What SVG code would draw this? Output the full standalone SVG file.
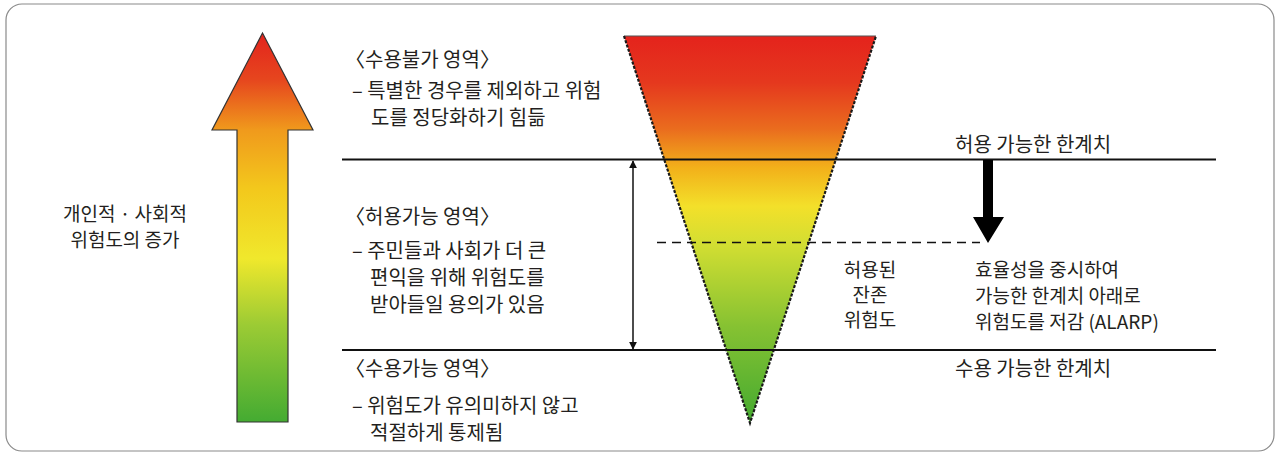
<svg xmlns="http://www.w3.org/2000/svg" width="1277" height="454" viewBox="0 0 1277 454">
<defs>
<linearGradient id="gArrow" x1="0" y1="33" x2="0" y2="422" gradientUnits="userSpaceOnUse">
<stop offset="0" stop-color="#e3231d"/>
<stop offset="0.12" stop-color="#e6461e"/>
<stop offset="0.25" stop-color="#f09a1c"/>
<stop offset="0.4" stop-color="#f3c81c"/>
<stop offset="0.58" stop-color="#f0e82c"/>
<stop offset="0.75" stop-color="#9ccb34"/>
<stop offset="1" stop-color="#44ab32"/>
</linearGradient>
<linearGradient id="gTri" x1="0" y1="36" x2="0" y2="423" gradientUnits="userSpaceOnUse">
<stop offset="0" stop-color="#e4231c"/>
<stop offset="0.12" stop-color="#e5381e"/>
<stop offset="0.24" stop-color="#ea6c1e"/>
<stop offset="0.34" stop-color="#f2b01a"/>
<stop offset="0.44" stop-color="#f3e02a"/>
<stop offset="0.54" stop-color="#d2de32"/>
<stop offset="0.75" stop-color="#86c232"/>
<stop offset="1" stop-color="#44aa30"/>
</linearGradient>
<marker id="ah" viewBox="0 0 10 10" refX="9" refY="5" markerWidth="8" markerHeight="8" markerUnits="userSpaceOnUse" orient="auto-start-reverse">
<path d="M0,0 L10,5 L0,10 z" fill="#111"/>
</marker>
<style>
text{font-family:"Noto Sans CJK KR","Liberation Sans",sans-serif;font-size:20px;fill:#231f20}
.mid{text-anchor:middle}
.sm{font-size:19px}
.ln{stroke:#111;stroke-width:2;fill:none}
</style>
</defs>
<rect x="6" y="4" width="1268" height="447" rx="16" ry="16" fill="#fff" stroke="#8a8a8a" stroke-width="1.2"/>

<g id="risk-arrow">
<path d="M262.5,33 L313,130 L288,130 L288,422 L237,422 L237,130 L212,130 Z" fill="url(#gArrow)" stroke="#333" stroke-width="1.2" stroke-linejoin="miter"/>
</g>
<g id="risk-arrow-label">
<text x="125" y="221" class="mid sm">개인적 · 사회적</text>
<text x="125" y="247" class="mid sm">위험도의 증가</text>
</g>

<g id="triangle">
<path d="M624,36 L876,36 L750,423 Z" fill="url(#gTri)"/>
<line x1="624" y1="36" x2="876" y2="36" stroke="#555" stroke-width="1.2"/>
<path d="M624,36 L750,423 L876,36" fill="none" stroke="#1a1a1a" stroke-width="2.2" stroke-dasharray="3,1.5"/>
</g>

<g id="connectors">
<line class="ln" x1="342" y1="159.5" x2="1216" y2="159.5"/>
<line class="ln" x1="342" y1="350" x2="1216" y2="350"/>
<line x1="633" y1="161" x2="633" y2="349" stroke="#111" stroke-width="1.5" marker-start="url(#ah)" marker-end="url(#ah)"/>
<line x1="657" y1="242.5" x2="980" y2="242.5" stroke="#111" stroke-width="1.5" stroke-dasharray="9,6"/>
<path d="M983,160 L993,160 L993,217 L1004,217 L988,243 L973,217 L983,217 Z" fill="#000"/>
</g>

<g id="zone-unacceptable">
<text x="345" y="67">〈수용불가 영역〉</text>
<text x="352" y="98">– 특별한 경우를 제외하고 위험</text>
<text x="371" y="125">도를 정당화하기 힘듦</text>
</g>
<g id="zone-tolerable">
<text x="345" y="224">〈허용가능 영역〉</text>
<text x="352" y="258">– 주민들과 사회가 더 큰</text>
<text x="370" y="285">편익을 위해 위험도를</text>
<text x="370" y="312">받아들일 용의가 있음</text>
</g>
<g id="zone-acceptable">
<text x="345" y="376">〈수용가능 영역〉</text>
<text x="352" y="413">– 위험도가 유의미하지 않고</text>
<text x="370" y="440">적절하게 통제됨</text>
</g>
<g id="limit-upper">
<text x="955" y="152">허용 가능한 한계치</text>
</g>
<g id="limit-lower">
<text x="955" y="376">수용 가능한 한계치</text>
</g>
<g id="residual">
<text x="870" y="277" class="mid sm">허용된</text>
<text x="870" y="302" class="mid sm">잔존</text>
<text x="870" y="327" class="mid sm">위험도</text>
</g>
<g id="alarp">
<text x="975" y="277" class="sm">효율성을 중시하여</text>
<text x="975" y="303" class="sm">가능한 한계치 아래로</text>
<text x="975" y="329" class="sm">위험도를 저감 (ALARP)</text>
</g>
</svg>
